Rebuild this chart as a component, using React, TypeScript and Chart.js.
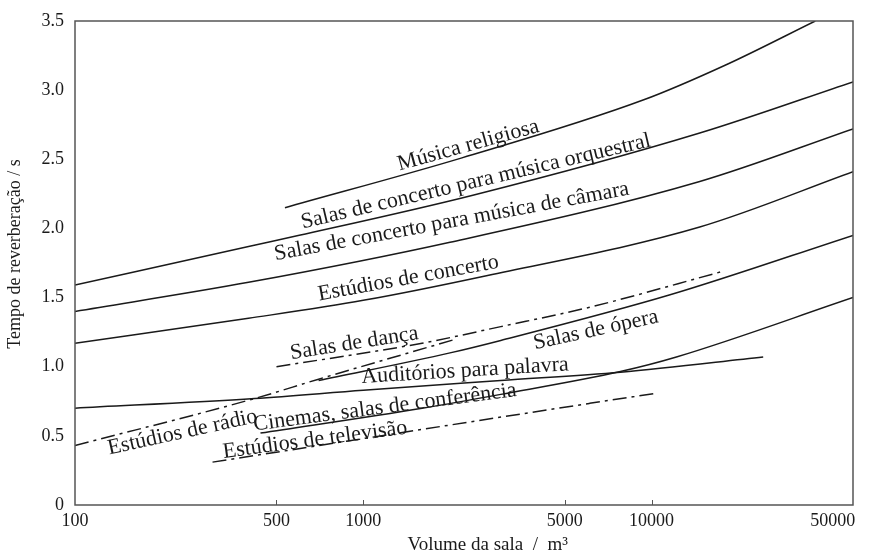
import { useEffect, useRef } from 'react';
import { Chart, registerables } from 'chart.js';

Chart.register(...registerables);

// ---- Axis ticks ----
const xTickValues = [100, 500, 1000, 5000, 10000, 50000];
const xInnerTickValues = [500, 1000, 5000, 10000];
const yTickValues = [0, 0.5, 1, 1.5, 2, 2.5, 3, 3.5];

// ---- Curves: room volume (m³) and reverberation time (s) ----
const religiosaV = [535, 2200, 9400, 18000, 37000];
const religiosaT = [2.15, 2.51, 2.93, 3.18, 3.5];

const orquestralV = [100, 400, 600, 2400, 14700, 50000];
const orquestralT = [1.59, 1.87, 1.95, 2.24, 2.69, 3.06];

const camaraV = [100, 400, 2000, 14700, 50000];
const camaraT = [1.4, 1.61, 1.9, 2.34, 2.72];

const estConcertoV = [100, 400, 1000, 2700, 14700, 50000];
const estConcertoT = [1.17, 1.35, 1.48, 1.66, 2.01, 2.41];

const operaV = [700, 2000, 3000, 11600, 50000];
const operaT = [0.9, 1.1, 1.19, 1.52, 1.95];

const cinemasV = [440, 1600, 3000, 7800, 12200, 50000];
const cinemasT = [0.52, 0.7, 0.8, 0.965, 1.07, 1.5];

const palavraV = [100, 420, 1000, 3000, 7800, 24400];
const palavraT = [0.7, 0.77, 0.83, 0.9, 0.96, 1.07];

const radioV = [100, 420, 700, 2100];
const radioT = [0.43, 0.77, 0.91, 1.2];

const dancaV = [500, 1600, 3000, 6100, 17700];
const dancaT = [1.0, 1.17, 1.29, 1.43, 1.69];

const televisaoV = [300, 6100, 10500];
const televisaoT = [0.31, 0.735, 0.81];

// ---- Curve label texts ----
const labelTexts = [
  'Música religiosa',
  'Salas de concerto para música orquestral',
  'Salas de concerto para música de câmara',
  'Estúdios de concerto',
  'Salas de dança',
  'Auditórios para palavra',
  'Estúdios de rádio',
  'Cinemas, salas de conferência',
  'Estúdios de televisão',
  'Salas de ópera',
];
// anchor (volume, time) for each label's centre
const labelV = [2315, 2458, 2027, 1434, 930, 2254, 236, 1190, 680, 6412];
const labelT = [2.6, 2.338, 2.049, 1.639, 1.169, 0.97, 0.524, 0.705, 0.47, 1.265];
const labelAngle = [15.5, 13.3, 10.5, 10.3, 9, 3.5, 12.4, 7.5, 7.6, 12.3];

const SERIF = "'Liberation Serif', 'Times New Roman', Times, serif";
const INK = '#1a1a1a';

const pts = (v: number[], t: number[]) => v.map((x, i) => ({ x, y: t[i] }));

const SOLID: number[] = [];
const DASHDOT = [14, 5, 3, 5];

function line(label: string, v: number[], t: number[], dash: number[]) {
  return {
    label,
    data: pts(v, t),
    borderColor: INK,
    borderWidth: 1.5,
    borderDash: dash,
    pointRadius: 0,
    fill: false,
    cubicInterpolationMode: 'monotone' as const,
  };
}

const overlayPlugin = {
  id: 'overlay',
  afterDatasetsDraw(chart: any) {
    const { ctx, chartArea: a, scales } = chart;
    const xs = scales.x;
    const ys = scales.y;
    ctx.save();
    // frame
    ctx.strokeStyle = '#555';
    ctx.lineWidth = 1.5;
    ctx.strokeRect(a.left, a.top, a.right - a.left, a.bottom - a.top);
    // inner tick marks on the x axis
    ctx.lineWidth = 1;
    xInnerTickValues.forEach((v) => {
      const px = Math.round(xs.getPixelForValue(v)) + 0.5;
      ctx.beginPath();
      ctx.moveTo(px, a.bottom);
      ctx.lineTo(px, a.bottom - 5);
      ctx.stroke();
    });
    // curve labels
    ctx.fillStyle = INK;
    ctx.font = `22px ${SERIF}`;
    ctx.textAlign = 'center';
    ctx.textBaseline = 'middle';
    labelTexts.forEach((text, i) => {
      ctx.save();
      ctx.translate(xs.getPixelForValue(labelV[i]), ys.getPixelForValue(labelT[i]));
      ctx.rotate((-labelAngle[i] * Math.PI) / 180);
      ctx.fillText(text, 0, 0);
      ctx.restore();
    });
    ctx.restore();
  },
};

export default function App() {
  const canvasRef = useRef<HTMLCanvasElement | null>(null);

  useEffect(() => {
    const canvas = canvasRef.current;
    if (!canvas) return;
    const chart = new Chart(canvas, {
      type: 'line',
      data: {
        datasets: [
          line('Música religiosa', religiosaV, religiosaT, SOLID),
          line('Salas de concerto para música orquestral', orquestralV, orquestralT, SOLID),
          line('Salas de concerto para música de câmara', camaraV, camaraT, SOLID),
          line('Estúdios de concerto', estConcertoV, estConcertoT, SOLID),
          line('Salas de ópera', operaV, operaT, SOLID),
          line('Cinemas, salas de conferência', cinemasV, cinemasT, SOLID),
          line('Auditórios para palavra', palavraV, palavraT, SOLID),
          line('Estúdios de rádio', radioV, radioT, DASHDOT),
          line('Salas de dança', dancaV, dancaT, DASHDOT),
          line('Estúdios de televisão', televisaoV, televisaoT, DASHDOT),
        ],
      },
      options: {
        responsive: false,
        animation: false,
        devicePixelRatio: 1,
        layout: { padding: { top: 21, right: 17, bottom: 0, left: 0 } },
        plugins: {
          legend: { display: false },
          tooltip: { enabled: false },
        },
        scales: {
          x: {
            type: 'logarithmic',
            min: 100,
            max: 50000,
            afterBuildTicks: (s: any) => {
              s.ticks = xTickValues.map((value) => ({ value }));
            },
            afterFit: (s: any) => {
              s.height = 51;
              s.paddingLeft = 0;
              s.paddingRight = 0;
            },
            grid: { display: false, drawTicks: false },
            border: { display: false },
            ticks: {
              autoSkip: false,
              maxRotation: 0,
              minRotation: 0,
              padding: 5,
              color: INK,
              font: { family: SERIF, size: 18 },
              callback: (v: any) => {
                const n = Number(v);
                return n === 50000 ? String(n) + '\u2002\u2002\u2002\u2002 ' : String(n);
              },
            },
            title: {
              display: true,
              text: '\u2003\u2003\u2002Volume da sala  /  m³',
              color: INK,
              font: { family: SERIF, size: 19 },
              padding: { top: 0, bottom: 0 },
            },
          },
          y: {
            type: 'linear',
            min: 0,
            max: 3.5,
            afterBuildTicks: (s: any) => {
              s.ticks = yTickValues.map((value) => ({ value }));
            },
            afterFit: (s: any) => {
              s.width = 75;
              s.paddingTop = 0;
              s.paddingBottom = 0;
            },
            grid: { display: false, drawTicks: false },
            border: { display: false },
            ticks: {
              padding: 11,
              color: INK,
              font: { family: SERIF, size: 18 },
              callback: (v: any) => (Number(v) === 0 ? '0' : Number(v).toFixed(1)),
            },
            title: {
              display: true,
              text: '\u2002\u2002Tempo de reverberação / s',
              color: INK,
              font: { family: SERIF, size: 18 },
              padding: { top: 4, bottom: 0 },
            },
          },
        },
      },
      plugins: [overlayPlugin],
    } as any);
    return () => chart.destroy();
  }, []);

  return (
    <div style={{ position: 'fixed', left: 0, top: 0, width: 870, height: 556, background: '#fff' }}>
      <canvas ref={canvasRef} width={870} height={556} style={{ display: 'block' }} />
    </div>
  );
}
